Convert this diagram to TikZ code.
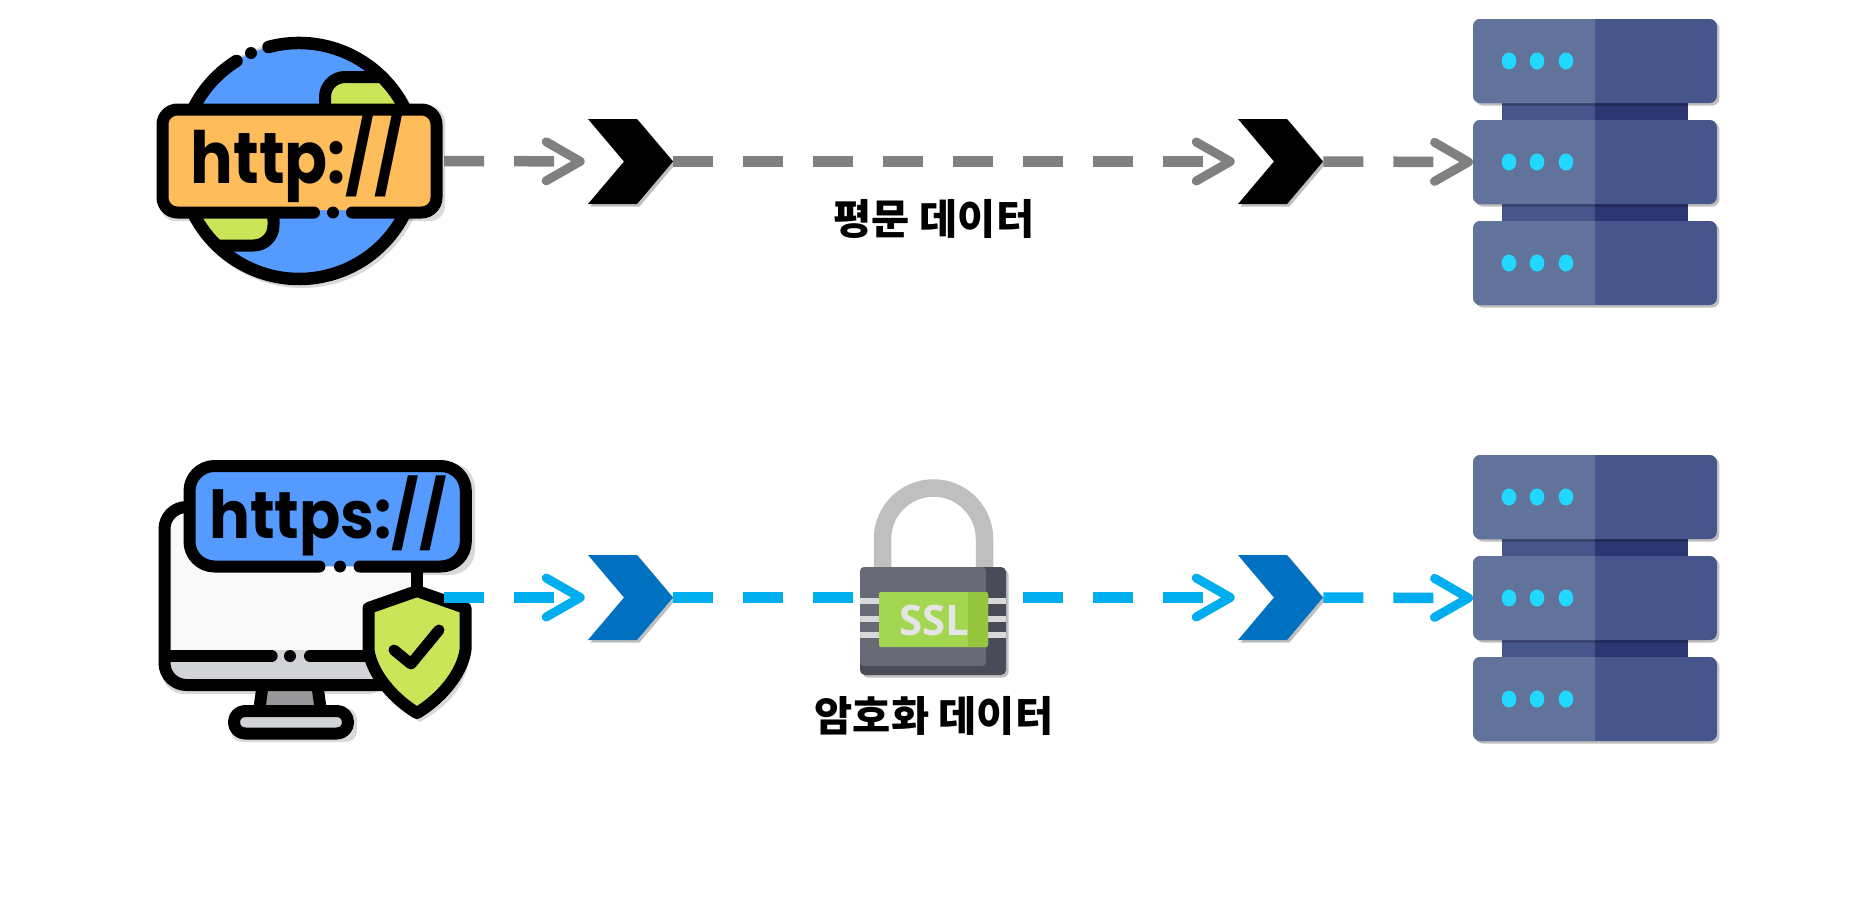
\documentclass[tikz,border=0pt]{standalone}
\usepackage{graphicx}
\usepackage{fontspec}
\usetikzlibrary{positioning,shapes.symbols,shadows,arrows.meta}
\newfontfamily\urlfont{Poppins}
\newfontfamily\korfont{Noto Sans CJK KR}
\newfontfamily\sslfont{Open Sans}
\definecolor{globeblue}{HTML}{559BFF}
\definecolor{barorange}{HTML}{FFBC5B}
\definecolor{landgreen}{HTML}{CBE558}
\definecolor{rackdark}{HTML}{46558B}
\definecolor{racklight}{HTML}{62739B}
\definecolor{rackneck}{HTML}{2B3672}
\definecolor{rackdot}{HTML}{22D8FF}
\definecolor{plaingray}{HTML}{808080}
\definecolor{sslblue}{HTML}{00AEEF}
\definecolor{hopblue}{HTML}{0070C0}
\definecolor{lockbody}{HTML}{686A76}
\definecolor{lockdark}{HTML}{494B56}
\definecolor{panelgray}{HTML}{D1D3D6}
\definecolor{screenwhite}{HTML}{F9F9F9}
\definecolor{sslgreen}{HTML}{A3D651}
\definecolor{sslgreendk}{HTML}{96C63E}
\tikzset{
  softshadow/.style={drop shadow={shadow xshift=2.5pt,shadow yshift=-2.5pt,opacity=.25,fill=black}},
  hopmark/.style={shape=signal,signal to=east,signal from=west,signal pointer angle=99.5,
    minimum width=85pt,minimum height=85pt,inner sep=0pt,softshadow},
  rackbox/.style={rectangle,rounded corners=7pt,fill=rackdark,minimum width=243.6pt,minimum height=84pt,inner sep=0pt,softshadow},
  flowline/.style={line width=10.5pt,dash pattern=on 40pt off 30pt,
    -{Straight Barb[length=34pt,width=39pt,line width=9pt,round]}},
  outline/.style={draw=black,line width=12pt,line cap=round,line join=round},
  urltext/.style={anchor=base,inner sep=0pt,font=\urlfont\bfseries},
  kortext/.style={inner sep=0pt,font=\korfont\bfseries\fontsize{41.5}{41.5}\selectfont},
  iconshade/.style={fill=black,opacity=.15}
}
\begin{document}
\begin{tikzpicture}[x=1pt,y=-1pt]
\useasboundingbox (0,0) rectangle (1868,905);
\fill [white] (0,0) rectangle (1868,905);
% servers
\foreach \ry/\rn in {0/a,436/b} {
  \fill [rackdark] (1501.6,100+\ry) rectangle (1595,225+\ry);
  \fill [rackneck] (1595,100+\ry) rectangle (1688,225+\ry);
  \foreach \by in {61,162,263} {
    \node (rack\rn-\by) [rackbox] at (1595,\by+\ry) {};
    \fill [racklight] (1595,\by+\ry-42) [rounded corners=7pt] -- (1473.2,\by+\ry-42) -- (1473.2,\by+\ry+42) [sharp corners] -- (1595,\by+\ry+42) -- cycle;
    \foreach \dx in {1509,1537,1566}
      \fill [rackdot] (\dx,\by+\ry) ellipse (7.3 and 8.5);
  }
}
% http globe
\fill [iconshade] (302,164) circle (124);
\fill [iconshade,rounded corners=15pt] (160.5,107) rectangle (445,221);
\fill [globeblue] (299,161) circle (118);
\begin{scope}
\clip (299,161) circle (118);
\filldraw [fill=landgreen,outline,rounded corners=20pt] (430,77) -- (325,77) -- (325,125) -- (430,125);
\filldraw [fill=landgreen,outline,rounded corners=20pt] (170,245.5) -- (273.5,245.5) -- (273.5,200) -- (170,200);
\end{scope}
\draw [outline,line width=12.5pt] (268.5,47) arc (255:598:118);
\fill [black] (251,53) circle (6);
\node (httpbar) [rectangle,rounded corners=10pt,fill=barorange,minimum width=272pt,minimum height=98pt,inner sep=0pt] at (299.5,161) {};
\draw [outline,rounded corners=15pt] (314,212.5) -- (162.5,212.5) -- (162.5,109.5) -- (436.5,109.5) -- (436.5,212.5) -- (352,212.5);
\fill [black] (333,212.5) circle (6);
\node (httptxt) [urltext,font=\urlfont\bfseries\fontsize{72}{72}\selectfont] at (297,183) {\scalebox{.88}[1]{http://}};
% https monitor
\fill [iconshade,rounded corners=22pt] (162,505) rectangle (390,694);
\fill [iconshade,rounded corners=25pt] (187,463) rectangle (475,575);
\fill [iconshade,rounded corners=11pt] (231,708) rectangle (357,742);
\fill [screenwhite] (168,505) rectangle (420,660);
\fill [panelgray,rounded corners=15pt] (168,650) rectangle (390,682);
\fill [gray!70!panelgray] (268,690) -- (314,690) -- (318,708) -- (264,708) -- cycle;
\draw [outline] (262,690) -- (259.5,708) (318,690) -- (320.5,708);
\filldraw [fill=panelgray,outline,rounded corners=11pt] (234,711) rectangle (348,733.5);
\draw [outline,rounded corners=22pt] (200,507) -- (164.5,507) -- (164.5,685) -- (385,685);
\draw [outline] (170,656) -- (271.6,656) (310,656) -- (380,656) (417,570) -- (417,595);
\fill [black] (290,656) circle (6);
\node (httpsbar) [rectangle,rounded corners=18pt,fill=globeblue,minimum width=276pt,minimum height=100pt,inner sep=0pt] at (327.6,516.3) {};
\draw [outline,rounded corners=25pt] (319.4,566.5) -- (189.5,566.5) -- (189.5,466) -- (465.8,466) -- (465.8,566.5) -- (359.6,566.5);
\fill [black] (340,566.5) circle (6);
\node (httpstxt) [urltext,font=\urlfont\bfseries\fontsize{66}{66}\selectfont] at (328,538) {\scalebox{.92}[1]{https://}};
% shield
\fill [iconshade] (420,594) -- (471,612) -- (469,660) .. controls (464,690) and (445,708) .. (420,722) .. controls (395,708) and (376,690) .. (371,660) -- (369,612) -- cycle;
\filldraw [fill=landgreen,outline] (417,591) -- (368.5,608) -- (368.5,650) .. controls (372,675) and (395,700) .. (417,713) .. controls (439,700) and (462,675) .. (465.5,650) -- (465.5,608) -- cycle;
\draw [outline,line width=11pt] (394,650) -- (411,664) -- (439,630);
\coordinate (shieldout) at (444,597.5);
% flows, the lock goes over the middle one
\node (hopa) [hopmark,fill=black] at (630.5,161.5) {};
\node (hopb) [hopmark,fill=black] at (1280.5,161.5) {};
\node (hopc) [hopmark,fill=hopblue] at (630.5,597.5) {};
\node (hopd) [hopmark,fill=hopblue] at (1280.5,597.5) {};
\draw [plaingray,flowline,shorten <=8.5pt,shorten >=39pt] (httpbar.east) -- (hopa.west);
\draw [plaingray,flowline,shorten >=39pt] (hopa.east) -- (hopb.west);
\draw [plaingray,flowline] (hopb.east) -- (racka-162.west);
\draw [sslblue,flowline,shorten >=39pt] (shieldout) -- (hopc.west);
\draw [sslblue,flowline,shorten >=39pt] (hopc.east) -- (hopd.west);
\draw [sslblue,flowline] (hopd.east) -- (rackb-162.west);
% lock
\draw [color=gray!50!white,line width=17.5pt] (882.5,570) -- (882.5,539) arc (180:360:51) -- (984.5,570);
\node (lockbox) [rectangle,rounded corners=5pt,fill=lockdark,minimum width=146pt,minimum height=108pt,inner sep=0pt,softshadow] at (933,621) {};
\fill [lockbody,rounded corners=4pt] (860,567) -- (986,567) -- (986,666) -- (860,666) -- cycle;
\foreach \sy in {601,619,635}
  \fill [gray!30!white] (860,\sy-2.7) rectangle (1006,\sy+2.7);
\fill [sslgreen,rounded corners=2pt] (879,592) rectangle (988,647);
\fill [sslgreendk,rounded corners=2pt] (968,592) rectangle (988,647);
\node (ssltxt) [inner sep=0pt,text=white!90!black,font=\sslfont\bfseries\fontsize{42}{42}\selectfont] at (934,620) {SSL};
% labels
\node (plainlbl) [kortext] at (934,219) {평문 데이터};
\node (encrlbl) [kortext] at (934,716) {암호화 데이터};
\end{tikzpicture}
\end{document}
